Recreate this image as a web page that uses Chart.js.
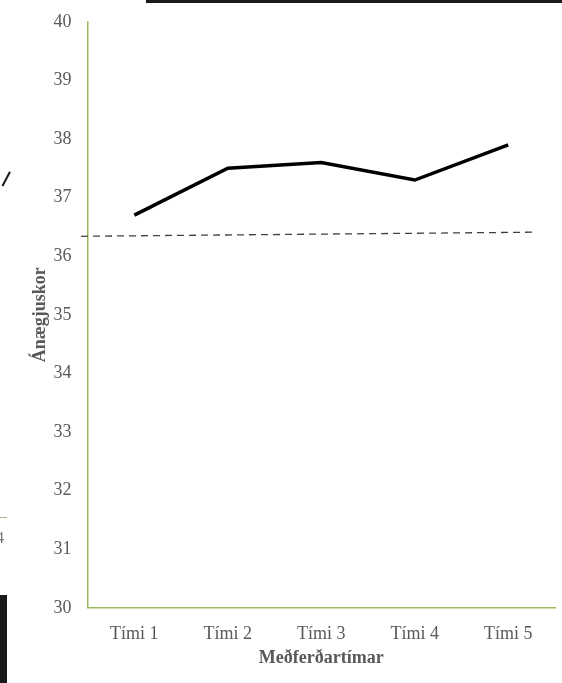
<!DOCTYPE html>
<html>
<head>
<meta charset="utf-8">
<script src="https://cdn.jsdelivr.net/npm/chart.js@4/dist/chart.umd.min.js"></script>
<style>
  body { margin: 0; background: #fff; }
  #wrap { position: relative; width: 562px; height: 683px; overflow: hidden; }
  #l-chart { position: absolute; left: 0; top: -5px; }
  .mark { position: absolute; background: #1a1a1a; }
</style>
</head>
<body>
<div id="wrap">
  <canvas id="l-chart" width="562" height="688"></canvas>
  <!-- bits of the page around the cropped figure -->
  <div class="mark" style="left:146px;top:0;width:416px;height:3px;"></div>
  <div class="mark" style="left:0;top:595px;width:7px;height:88px;"></div>
  <div class="mark" style="left:0;top:517px;width:7px;height:1px;background:#b7ab8f;"></div>
  <div class="mark" style="left:-2px;top:178px;width:16px;height:1.5px;transform:rotate(-62deg);"></div>
  <div style="position:absolute;left:-4px;top:529px;font:16px 'Liberation Serif';color:#777;">4</div>
</div>
<script>
// category labels and series values
var timar = ["Tími 1", "Tími 2", "Tími 3", "Tími 4", "Tími 5"];
var skor = [36.7, 37.5, 37.6, 37.3, 37.9];

// dashed reference line (x in category units)
var vidmidX = [-0.57, 4.29];
var vidmidY = [36.34, 36.41];

var gray = "#595959";
var green = "#9bbb59";

new Chart(document.getElementById("l-chart"), {
    type: 'line',
    data: {
      labels: timar,
      datasets: [{
        label: "Ánægjuskor",
        data: skor,
        borderColor: "#000000",
        borderWidth: 3.5,
        pointRadius: 0,
        tension: 0,
        fill: false
      }, {
        label: "Viðmið",
        data: vidmidX.map(function(x, i) { return {x: x, y: vidmidY[i]}; }),
        xAxisID: 'x2',
        borderColor: "#404040",
        borderWidth: 1.3,
        borderDash: [7, 5],
        pointRadius: 0,
        clip: false,
        fill: false
      }]
    },
    options: {
      responsive: false,
      animation: false,
      layout: { padding: { top: 0, right: 7, left: 26, bottom: 10 } },
      plugins: {
        legend: { display: false },
        tooltip: { enabled: false }
      },
      scales: {
        x: {
          offset: true,
          grid: { display: false, drawTicks: false },
          border: { color: green, width: 1.5 },
          ticks: { color: gray, font: { family: "Liberation Serif", size: 18 }, padding: 16 },
          title: { display: true, text: "Meðferðartímar", color: gray,
                   font: { family: "Liberation Serif", size: 18, weight: 'bold' }, padding: { top: -14 } }
        },
        x2: {
          type: 'linear',
          display: false,
          min: -0.5,
          max: 4.5
        },
        y: {
          min: 30,
          max: 40,
          grid: { display: false, drawTicks: false },
          border: { color: green, width: 1.5 },
          ticks: { stepSize: 1, color: gray, font: { family: "Liberation Serif", size: 18 }, padding: 16 },
          title: { display: true, text: "Ánægjuskor", color: gray,
                   font: { family: "Liberation Serif", size: 18, weight: 'bold' }, padding: { bottom: -14 } }
        }
      }
    }
});
</script>
</body>
</html>
